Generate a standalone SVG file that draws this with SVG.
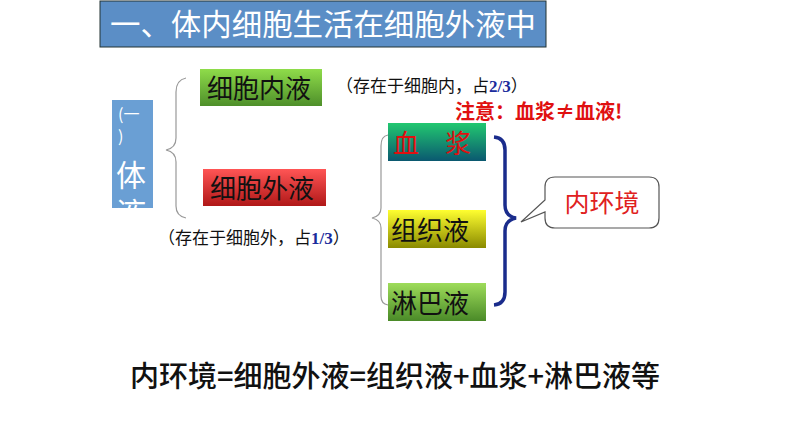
<svg xmlns="http://www.w3.org/2000/svg" width="794" height="447" viewBox="0 0 794 447">
<defs>
<linearGradient id="gG" x1="0" y1="0" x2="0" y2="1"><stop offset="0" stop-color="#8fdc4a"/><stop offset="1" stop-color="#4e8f2a"/></linearGradient>
<linearGradient id="gR" x1="0" y1="0" x2="0" y2="1"><stop offset="0" stop-color="#ff5555"/><stop offset="1" stop-color="#b01818"/></linearGradient>
<linearGradient id="gT" x1="0" y1="0" x2="0" y2="1"><stop offset="0" stop-color="#22c870"/><stop offset="1" stop-color="#0a5870"/></linearGradient>
<linearGradient id="gY" x1="0" y1="0" x2="0" y2="1"><stop offset="0" stop-color="#ffff30"/><stop offset="1" stop-color="#8a8a00"/></linearGradient>
<linearGradient id="gL" x1="0" y1="0" x2="0" y2="1"><stop offset="0" stop-color="#9edc5a"/><stop offset="1" stop-color="#4a8a28"/></linearGradient>
</defs>
<style>
text{font-family:"Noto Sans CJK SC","Liberation Sans",sans-serif}
.box{font-size:26px;fill:#111}
.note{font-size:17px;fill:#111;font-family:"Liberation Serif","Noto Sans CJK SC",serif}
.gb{stroke:#999;stroke-width:1.2;fill:none}
</style>
<rect width="794" height="447" fill="#fff"/>
<g id="title"><rect x="100" y="1" width="446" height="46" fill="#5b8ec6" stroke="#233" stroke-width="1"/>
<text x="110" y="35" font-size="30" fill="#fff" textLength="426" lengthAdjust="spacingAndGlyphs">一、体内细胞生活在细胞外液中</text></g>
<g id="tiye"><rect x="112" y="100" width="41" height="108" fill="#6a9fd4"/>
<svg x="112" y="100" width="41" height="108"><text x="6" y="20" font-size="16" fill="#fff">(一</text><text x="6" y="42" font-size="16" fill="#fff">)</text><text x="4" y="86" font-size="30" fill="#fff">体</text><text x="4" y="124" font-size="30" fill="#fff">液</text></svg></g>
<g id="connectors">
<path class="gb" d="M186,78 Q176,80 176,92 L176,138 Q176,148 166,150 Q176,152 176,162 L176,206 Q176,216 186,218"/>
<path class="gb" d="M388,135 Q381,136 381,146 L381,208 Q381,216 372,218 Q381,220 381,228 L381,296 Q381,304 388,305"/>
<path d="M494,137 Q505,138 505,150 L505,205 Q505,216 516,218 Q505,220 505,231 L505,292 Q505,304 494,305" fill="none" stroke="#1a2c8c" stroke-width="3.5"/>
</g>
<g id="n1"><rect x="200" y="69" width="122" height="37" fill="url(#gG)"/><text class="box" x="207" y="98">细胞内液</text></g>
<text class="note" x="336" y="92">（存在于细胞内，占<tspan fill="#1a2c9c" font-weight="bold">2/3</tspan>）</text>
<g id="n2"><rect x="203" y="169" width="123" height="37" fill="url(#gR)"/><text class="box" x="210" y="198">细胞外液</text></g>
<text class="note" x="158" y="244">（存在于细胞外，占<tspan fill="#1a2c9c" font-weight="bold">1/3</tspan>）</text>
<text x="455" y="119" font-size="20" fill="#e01010" font-weight="bold" font-family="Liberation Serif,Noto Sans CJK SC,serif">注意：血浆≠血液!</text>
<g id="n3"><rect x="388" y="123" width="98" height="38" fill="url(#gT)"/><text class="box" x="393" y="153" style="fill:#e01010">血　浆</text></g>
<g id="n4"><rect x="388" y="210" width="98" height="38" fill="url(#gY)"/><text class="box" x="391" y="240">组织液</text></g>
<g id="n5"><rect x="388" y="283" width="98" height="38" fill="url(#gL)"/><text class="box" x="391" y="313">淋巴液</text></g>
<g id="callout"><path d="M555,177 H649 Q659,177 659,187 V218 Q659,228 649,228 H555 Q545,228 545,218 V212 L521,222 L545,200 V187 Q545,177 555,177 Z" fill="#fff" stroke="#555" stroke-width="1.2"/>
<text x="602" y="212" font-size="25" fill="#e02020" text-anchor="middle">内环境</text></g>
<text x="395" y="387" font-size="29" font-weight="500" fill="#111" text-anchor="middle">内环境=细胞外液=组织液+血浆+淋巴液等</text>
</svg>
